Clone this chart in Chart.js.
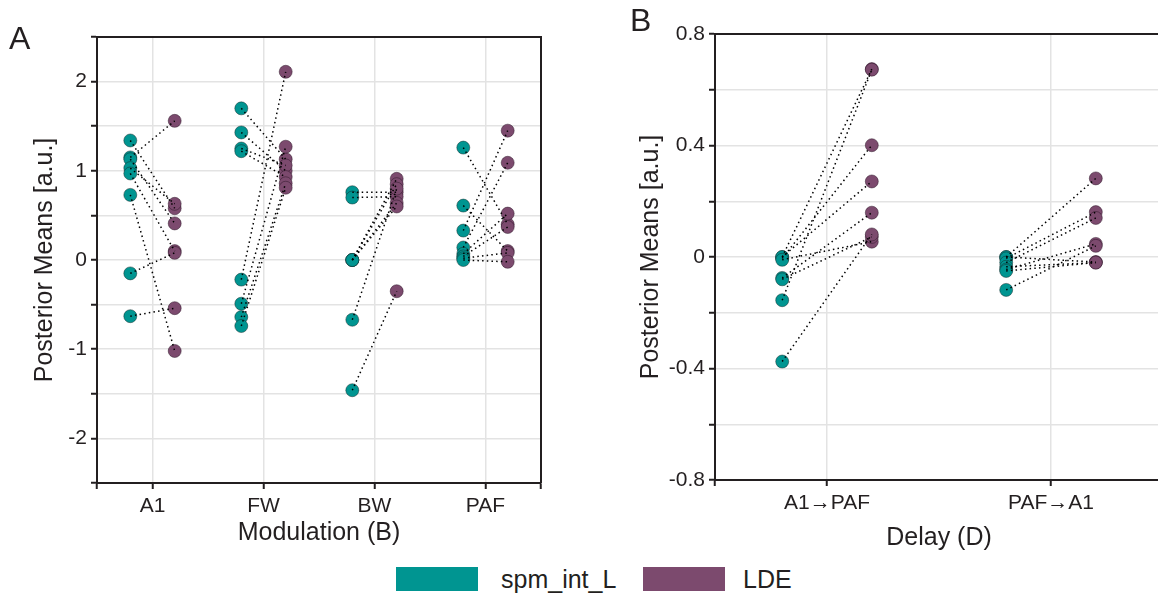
<!DOCTYPE html>
<html>
<head>
<meta charset="utf-8">
<script src="https://cdn.jsdelivr.net/npm/chart.js@4"></script>
<style>
  html, body { margin: 0; padding: 0; background: #fff; overflow: hidden; }
  body { width: 1158px; height: 593px; position: relative; font-family: "Liberation Sans", Arial, sans-serif; color: #231f20; }
  .panel { position: absolute; top: 0; }
  .letter { position: absolute; font-size: 32px; line-height: 1; }
  .legend { position: absolute; top: 567px; height: 24px; font-size: 25px; }
  .swatch { position: absolute; top: 0; width: 82px; height: 24px; }
  .legend span.txt { position: absolute; top: -1px; line-height: 26px; white-space: nowrap; }
</style>
</head>
<body>
<div class="panel" style="left:0;width:560px;height:560px"><canvas id="chartA" width="560" height="560"></canvas></div>
<div class="panel" style="left:600px;width:600px;height:560px"><canvas id="chartB" width="600" height="560"></canvas></div>
<div class="letter" style="left:9px;top:22px">A</div>
<div class="letter" style="left:630px;top:4px">B</div>
<div class="legend" style="left:0;width:1158px">
  <div class="swatch" style="left:396px;background:#009591"></div>
  <span class="txt" style="left:501px">spm_int_L</span>
  <div class="swatch" style="left:643px;background:#7c4a6e"></div>
  <span class="txt" style="left:743px">LDE</span>
</div>
<script>
// panel A: modulation (B) parameters, 8 subjects per connection
const modCategories = ["A1", "FW", "BW", "PAF"];
const modSpmA1 = [1.34, 1.15, 1.13, 1.03, 0.97, 0.73, -0.15, -0.63];
const modLdeA1 = [0.58, 1.56, 0.41, 0.63, 0.10, -1.02, 0.08, -0.54];
const modSpmFW = [1.70, 1.43, 1.25, 1.22, -0.22, -0.49, -0.64, -0.74];
const modLdeFW = [1.13, 1.00, 1.06, 0.93, 2.11, 1.27, 0.86, 0.81];
const modSpmBW = [0.76, 0.70, 0.00, 0.00, 0.00, 0.00, -0.67, -1.46];
const modLdeBW = [0.76, 0.71, 0.91, 0.85, 0.64, 0.60, 0.80, -0.35];
const modSpmPAF = [1.26, 0.61, 0.33, 0.14, 0.07, 0.04, 0.02, 0.00];
const modLdePAF = [0.40, 0.10, 1.45, 1.09, 0.52, 0.37, 0.08, -0.02];

// panel B: delay (D) parameters
const delayCategories = ["A1\u2192PAF", "PAF\u2192A1"];
const delaySpmA1PAF = [0.00, -0.005, 0.00, -0.01, -0.075, -0.08, -0.155, -0.375];
const delayLdeA1PAF = [0.674, 0.401, 0.271, 0.055, 0.159, 0.072, 0.672, 0.081];
const delaySpmPAFA1 = [0.00, 0.00, -0.005, -0.02, -0.035, -0.045, -0.05, -0.118];
const delayLdePAFA1 = [0.282, -0.018, 0.161, 0.140, -0.02, 0.047, -0.02, 0.040];

const teal = "#009591";
const plum = "#7c4a6e";
const ink = "#231f20";

Chart.defaults.font.family = "'Liberation Sans', Arial, sans-serif";
Chart.defaults.color = ink;

// top + right frame lines (the library only draws the axis borders)
const frame = {
	id: "frame",
	afterDraw(chart) {
		const { ctx, chartArea: a } = chart;
		ctx.save();
		ctx.strokeStyle = ink;
		ctx.lineWidth = 2;
		ctx.beginPath();
		ctx.moveTo(a.left, a.top);
		ctx.lineTo(a.right, a.top);
		ctx.lineTo(a.right, a.bottom);
		ctx.stroke();
		ctx.restore();
	},
};

function buildDatasets(spm, lde) {
	const datasets = [];
	const off = 0.2;

	spm.forEach((vals, c) => {
		vals.forEach((v, i) => {
			datasets.push({
				type: "scatter",
				data: [{ x: c + 1 - off, y: v }, { x: c + 1 + off, y: lde[c][i] }],
				showLine: true,
				borderColor: "#000",
				borderWidth: 1.5,
				borderDash: [1.5, 3.2],
				pointRadius: 0,
				order: 1,
			});
		});
	});

	datasets.push({
		label: "spm_int_L",
		data: spm.flatMap((vals, c) => vals.map((v) => ({ x: c + 1 - off, y: v }))),
		backgroundColor: teal,
		borderColor: "rgba(20,40,40,0.6)",
		borderWidth: 0.8,
		pointRadius: 6.5,
		order: 2,
	});
	datasets.push({
		label: "LDE",
		data: lde.flatMap((vals, c) => vals.map((v) => ({ x: c + 1 + off, y: v }))),
		backgroundColor: plum,
		borderColor: "rgba(40,20,35,0.6)",
		borderWidth: 0.8,
		pointRadius: 6.5,
		order: 2,
	});
	return datasets;
}

function makeChart(el, opts) {
	const n = opts.categories.length;
	const xTicks = [0.5];
	for (let i = 1; i <= n; i++) xTicks.push(i);
	xTicks.push(n + 0.5);

	return new Chart(el, {
		type: "scatter",
		data: { datasets: buildDatasets(opts.spm, opts.lde) },
		plugins: [frame],
		options: {
			responsive: false,
			animation: false,
			layout: { padding: { top: opts.top, right: opts.right, left: 0, bottom: 0 } },
			plugins: { legend: { display: false }, tooltip: { enabled: false } },
			scales: {
				x: {
					type: "linear",
					min: 0.5,
					max: n + 0.5,
					afterBuildTicks: (s) => { s.ticks = xTicks.map((v) => ({ value: v })); },
					afterFit: (s) => { s.height = opts.xHeight; },
					ticks: {
						autoSkip: false,
						maxRotation: 0,
						padding: 5,
						font: { size: 21 },
						callback: (v) => (Number.isInteger(v) ? opts.categories[v - 1] : ""),
					},
					grid: { color: "#e3e3e3", lineWidth: 1.5, tickColor: ink, tickWidth: 2, tickLength: 6 },
					border: { color: ink, width: 2 },
					title: { display: true, text: opts.xTitle, font: { size: 25 }, padding: { top: 0, bottom: opts.xTitlePad } },
				},
				y: {
					min: opts.yMin,
					max: opts.yMax,
					afterBuildTicks: (s) => { s.ticks = opts.yTicks.map((v) => ({ value: v })); },
					afterFit: (s) => { s.width = opts.yWidth; },
					ticks: {
						padding: 4,
						font: { size: 21 },
						callback: opts.yLabel,
					},
					grid: { color: "#e3e3e3", lineWidth: 1.5, tickColor: ink, tickWidth: 2, tickLength: 6 },
					border: { color: ink, width: 2 },
					title: { display: true, text: "Posterior Means [a.u.]", font: { size: 25 }, padding: { top: opts.yTitlePad, bottom: 0 } },
				},
			},
		},
	});
}

const ticksA = [];
for (let k = -5; k <= 5; k++) ticksA.push(k / 2);
const ticksB = [];
for (let k = -4; k <= 4; k++) ticksB.push(k / 5);

makeChart(document.getElementById("chartA"), {
	categories: modCategories,
	spm: [modSpmA1, modSpmFW, modSpmBW, modSpmPAF],
	lde: [modLdeA1, modLdeFW, modLdeBW, modLdePAF],
	yMin: -2.5, yMax: 2.5, yTicks: ticksA,
	yLabel: (v) => (Number.isInteger(v) ? String(v) : ""),
	xTitle: "Modulation (B)",
	top: 37, right: 19, yWidth: 97, xHeight: 77,
	xTitlePad: 12, yTitlePad: 30,
});

makeChart(document.getElementById("chartB"), {
	categories: delayCategories,
	spm: [delaySpmA1PAF, delaySpmPAFA1],
	lde: [delayLdeA1PAF, delayLdePAFA1],
	yMin: -0.8, yMax: 0.8, yTicks: ticksB,
	yLabel: (v) => { const r = Math.round(v * 10); return r % 4 === 0 ? String(r / 10) : ""; },
	xTitle: "Delay (D)",
	top: 34, right: 37, yWidth: 115, xHeight: 80,
	xTitlePad: 7, yTitlePad: 36,
});
</script>
</body>
</html>
